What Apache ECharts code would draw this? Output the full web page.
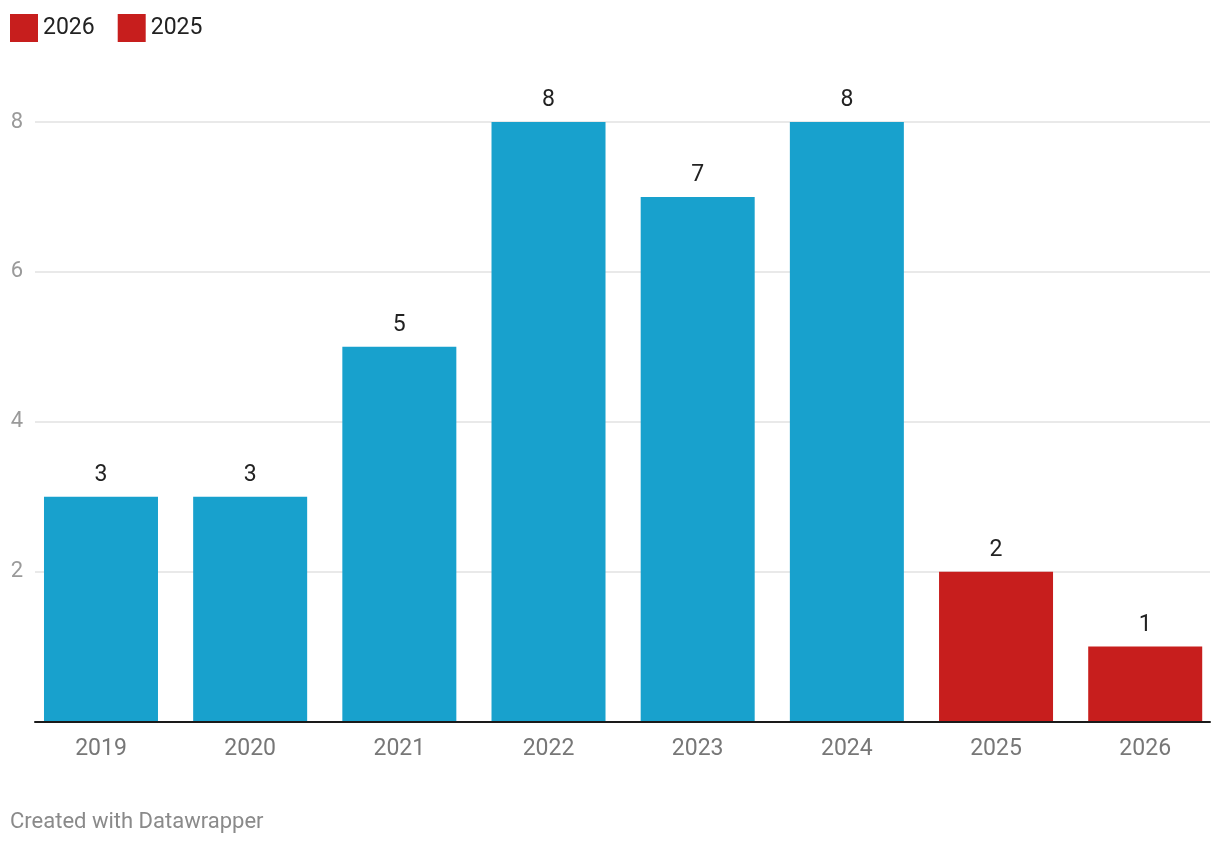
<!DOCTYPE html>
<html><head><meta charset="utf-8">
<script src="https://cdn.jsdelivr.net/npm/echarts@6/dist/echarts.min.js"></script>
<style>html,body{margin:0;padding:0;background:#fff}#c{width:1220px;height:846px}</style>
</head><body><div id="c"></div>
<script>
const categories = ['2019','2020','2021','2022','2023','2024','2025','2026'];
const values = [3,3,5,8,7,8,2,1];
const highlighted = ['2025','2026'];
const legendNames = ['2026','2025'];
const yTicks = [0,2,4,6,8];
const BLUE = '#18a1cd', RED = '#c71e1d';
const FONT = 'Roboto';

const chart = echarts.init(document.getElementById('c'), null, {renderer:'canvas'});
chart.setOption({
  animation:false,
  textStyle:{fontFamily:FONT},
  legend:{
    left:5, top:9, itemWidth:28, itemHeight:28, itemGap:23,
    icon:'rect', data:legendNames,
    textStyle:{fontFamily:FONT, fontSize:23, color:'#222'}
  },
  title:{
    text:'Created with Datawrapper', left:5, top:806,
    textStyle:{fontFamily:FONT, fontSize:22, fontWeight:'normal', color:'#8a8a8a'}
  },
  grid:[
    {left:35, right:10, top:122, bottom:124.5},
    {left:26.4, right:0.2, top:122, bottom:124.5}
  ],
  xAxis:[
    {type:'category', gridIndex:0, data:categories, axisTick:{show:false},
     axisLabel:{show:false}, axisLine:{lineStyle:{color:'#1a1a1a', width:2}}, z:5},
    {type:'category', gridIndex:1, data:categories, axisTick:{show:false},
     axisLine:{show:false},
     axisLabel:{fontFamily:FONT, fontSize:23, color:'#777', margin:16}}
  ],
  yAxis:[
    {type:'value', gridIndex:0, min:yTicks[0], max:yTicks[yTicks.length-1], interval:2,
     axisLine:{show:false}, axisTick:{show:false},
     splitLine:{lineStyle:{color:'#e2e2e2', width:1.5}},
     axisLabel:{fontFamily:FONT, fontSize:22, color:'#9a9a9a', margin:12,
       formatter:v=> v===0 ? '' : String(v)}},
    {type:'value', gridIndex:1, min:yTicks[0], max:yTicks[yTicks.length-1], interval:2,
     show:false}
  ],
  series:[
    {type:'bar', name:'data', xAxisIndex:1, yAxisIndex:1, barWidth:114,
     data: values.map((v,i)=>({value:v, itemStyle:{color: highlighted.includes(categories[i]) ? RED : BLUE}})),
     label:{show:true, position:'top', distance:10, fontFamily:FONT, fontSize:23, color:'#222'},
     z:3},
    {type:'bar', name:legendNames[0], xAxisIndex:0, yAxisIndex:0, data:[], itemStyle:{color:RED}},
    {type:'bar', name:legendNames[1], xAxisIndex:0, yAxisIndex:0, data:[], itemStyle:{color:RED}}
  ]
});
</script></body></html>
